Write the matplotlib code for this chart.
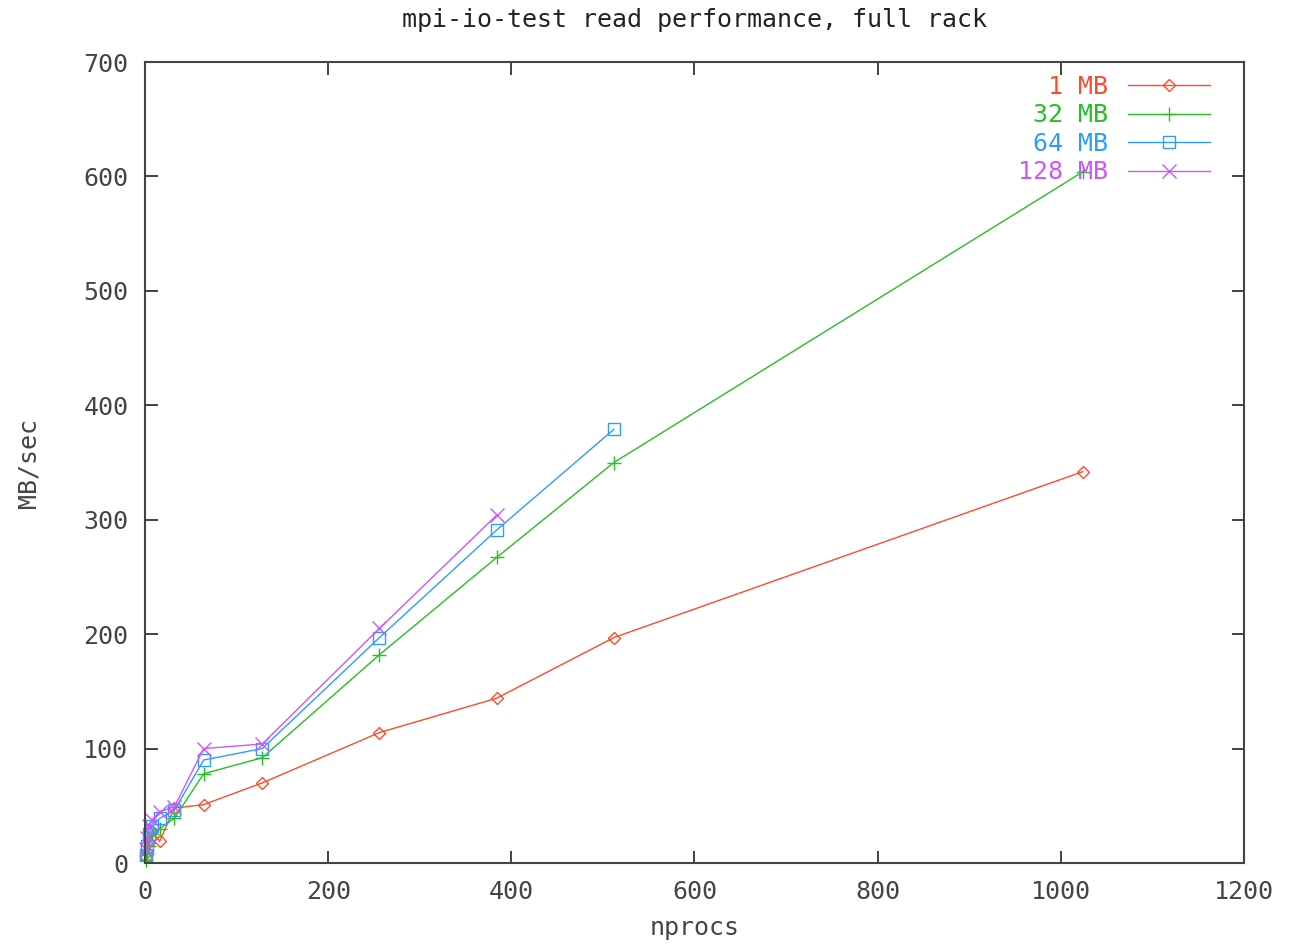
import numpy as np
import matplotlib.pyplot as plt

# valori
nprocs = [1, 2, 4, 8, 16, 32, 64, 128, 256, 384, 512, 1024]
mb1 = [5, 10, 18, 28, 19, 48, 51, 70, 114, 144, 197, 342]
mb32 = [3, 8, 15, 25, 30, 39, 78, 92, 182, 267, 350, 604]
mb64 = [7, 15, 25, 32, 39, 46, 90, 100, 197, 291, 379]
mb128 = [12, 22, 32, 38, 45, 49, 100, 104, 205, 304]

labels = ['  1 MB', ' 32 MB', ' 64 MB', '128 MB']
colors = ['#ff4a2a', '#22c022', '#2a9dff', '#cc55ff']
markers = ['D', '+', 's', 'x']
sizes = [6, 10, 9, 10]
series = [mb1, mb32, mb64, mb128]

plt.rcParams['font.family'] = ['DejaVu Sans Mono']

fig = plt.figure(figsize=(12.89, 9.47), dpi=100)
ax = fig.add_axes([0.1125, 0.0887, 0.8525, 0.8458])

for vals, lab, c, m, s in zip(series, labels, colors, markers, sizes):
    ax.plot(nprocs[:len(vals)], vals, color=c, marker=m, ms=s, mfc='none',
            mew=1.0, lw=1.0, label=lab, clip_on=False)

ax.set_xlim(0, 1200)
ax.set_ylim(0, 700)
ax.set_xticks(np.arange(0, 1201, 200))
ax.set_yticks(np.arange(0, 701, 100))

grey = '#444444'
for sp in ax.spines.values():
    sp.set_color(grey)
    sp.set_linewidth(1.5)
ax.tick_params(direction='in', length=9, width=1.2, color='#222222',
               top=True, right=True, labelsize=18, labelcolor=grey, pad=12)

ax.set_title('mpi-io-test read performance, full rack', fontsize=18,
             color='#222222', pad=25)
ax.set_xlabel('nprocs', fontsize=18, color=grey, labelpad=9)
ax.set_ylabel('MB/sec', fontsize=18, color=grey, labelpad=31)

leg = ax.legend(loc='upper right', frameon=False, markerfirst=False,
                labelcolor='linecolor', fontsize=18, handlelength=3.3,
                labelspacing=0.18, handletextpad=0.8,
                bbox_to_anchor=(0.99, 1.012))

fig.savefig('out.png', dpi=100)
